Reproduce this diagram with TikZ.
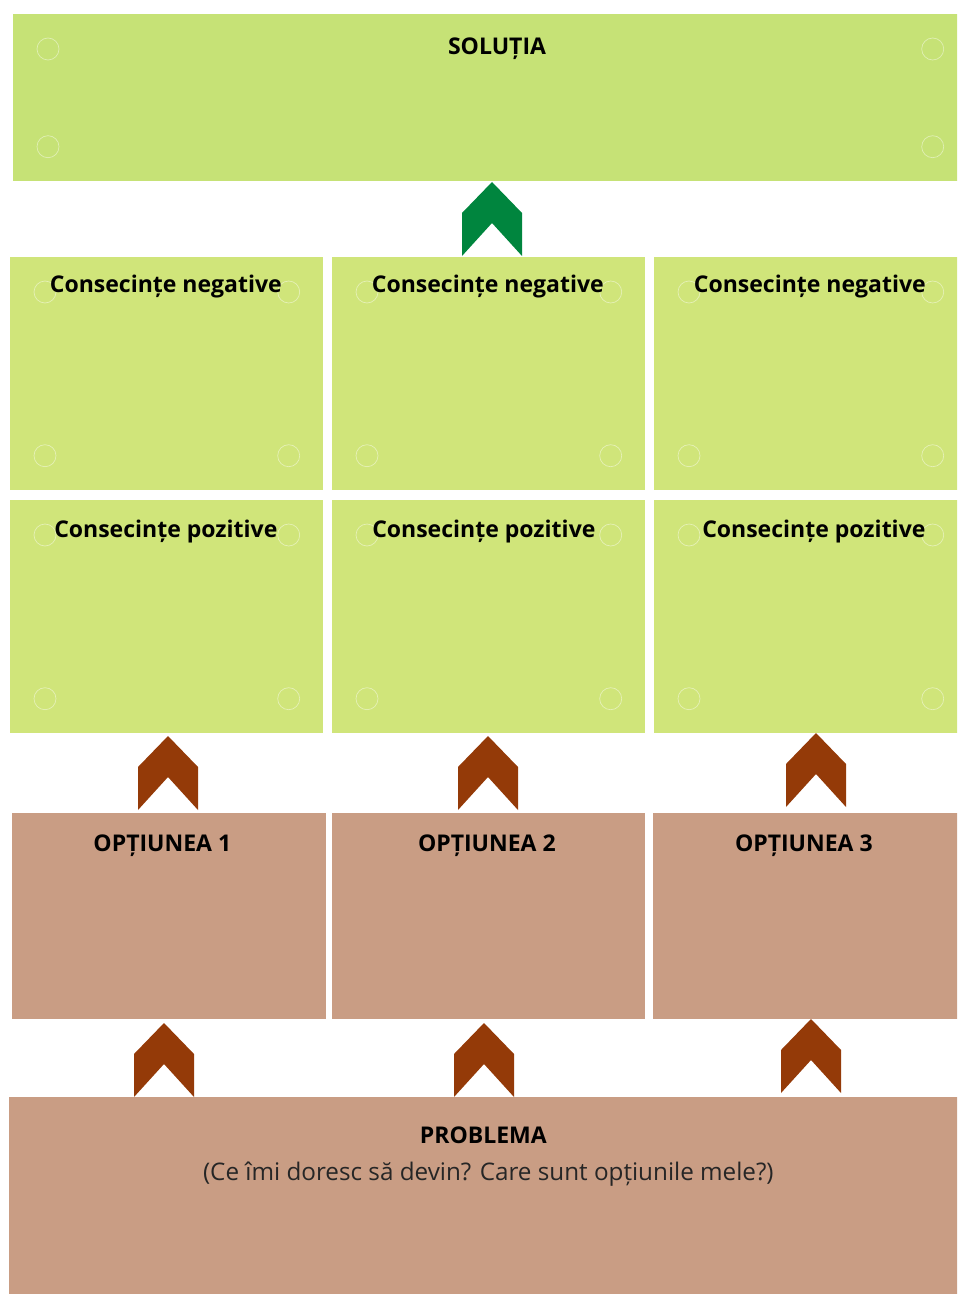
\documentclass[tikz,border=0pt]{standalone}
\usepackage{fontspec}
\setmainfont{Open Sans}
\usetikzlibrary{calc}

\definecolor{solgreen}{HTML}{C6E276}
\definecolor{boxgreen}{HTML}{D0E57A}
\definecolor{boxtan}{HTML}{C99D84}
\definecolor{arrowbrown}{HTML}{943A08}
\definecolor{arrowgreen}{HTML}{00853E}

\tikzset{
    box/.style={anchor=north west, inner sep=0pt, minimum width=313*0.02cm, minimum height=233*0.02cm},
    greenbox/.style={box, fill=boxgreen},
    tanbox/.style={box, fill=boxtan, minimum height=206*0.02cm},
    title/.style={anchor=base, inner sep=0pt, font=\bfseries\fontsize{13.1}{15}\selectfont},
    holeline/.style={draw=white, draw opacity=0.45, line width=0.4pt},
}

% chevron pointing up: colour, x of centre, y of bottom (pixels)
\newcommand\upchevron[3]{%
    \fill[#1] (#2,#3) ++(-30,0) -- ++(0,-43) -- ++(30,-31) -- ++(30,31) -- ++(0,43) -- ++(-30,-33) -- cycle;}

% faint round marks at the corners of a box
\newcommand\holes[1]{%
    \foreach \a/\dx/\dy in {north west/35/35, north east/-35/35, south west/35/-35, south east/-35/-35}
        \draw[holeline] ($(#1.\a)+(\dx,\dy)$) circle[radius=0.22cm];}

\begin{document}
\begin{tikzpicture}[x=0.02cm, y=-0.02cm]
    \clip (0,0) rectangle (957,1294);
    \fill[white] (0,0) rectangle (957,1294);

    % solution
    \node[box, fill=solgreen, minimum width=954*0.02cm, minimum height=167*0.02cm] (sol) at (13,14) {};
    \holes{sol}
    \node[title] (solt) at ($(sol.north west)+(484,41)$) {SOLUȚIA};

    % consequences
    \node[greenbox] (neg1) at (10,257) {};
    \node[greenbox] (neg2) at (332,257) {};
    \node[greenbox] (neg3) at (654,257) {};
    \node[greenbox] (pos1) at (10,500) {};
    \node[greenbox] (pos2) at (332,500) {};
    \node[greenbox] (pos3) at (654,500) {};
    \foreach \b in {neg1,neg2,neg3,pos1,pos2,pos3} {\holes{\b}}

    \node[title] (neg1t) at ($(neg1.north)+(-1,35)$) {Consecințe negative};
    \node[title] (neg2t) at ($(neg2.north)+(-1,35)$) {Consecințe negative};
    \node[title] (neg3t) at ($(neg3.north)+(-1,35)$) {Consecințe negative};
    \node[title] (pos1t) at ($(pos1.north)+(-1,37)$) {Consecințe pozitive};
    \node[title] (pos2t) at ($(pos2.north)+(-5,37)$) {Consecințe pozitive};
    \node[title] (pos3t) at ($(pos3.north)+(3,37)$) {Consecințe pozitive};

    % options
    \node[tanbox, minimum width=314*0.02cm] (opt1) at (12,813) {};
    \node[tanbox] (opt2) at (332,813) {};
    \node[tanbox] (opt3) at (653,813) {};
    \node[title] (opt1t) at ($(opt1.north)+(-7,38)$) {OPȚIUNEA 1};
    \node[title] (opt2t) at ($(opt2.north)+(-2,38)$) {OPȚIUNEA 2};
    \node[title] (opt3t) at ($(opt3.north)+(-6,38)$) {OPȚIUNEA 3};

    % problem
    \node[tanbox, minimum width=958*0.02cm, minimum height=200*0.02cm] (prob) at (9,1097) {};
    \node[title] (probt) at ($(prob.north)+(-5,46)$) {PROBLEMA};
    \node[anchor=base, inner sep=0pt, font=\fontsize{13.8}{16}\selectfont, text=black!85]
        (probs) at ($(prob.north)+(0,83)$) {(Ce îmi doresc să devin? Care sunt opțiunile mele?)};

    % arrows
    \upchevron{arrowgreen}{492}{256}
    \upchevron{arrowbrown}{168}{810}
    \upchevron{arrowbrown}{488}{810}
    \upchevron{arrowbrown}{816}{807}
    \upchevron{arrowbrown}{164}{1097}
    \upchevron{arrowbrown}{484}{1097}
    \upchevron{arrowbrown}{811}{1093}
\end{tikzpicture}
\end{document}
